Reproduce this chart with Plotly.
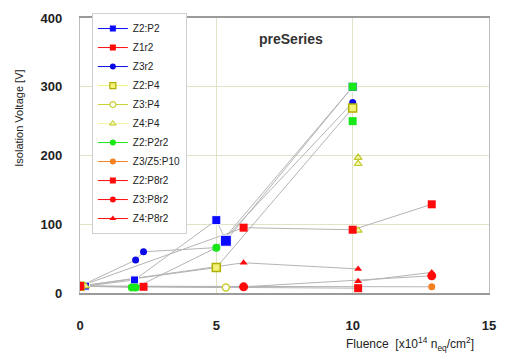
import plotly.graph_objects as go

# ---- data ----
names = ["Z2:P2", "Z1r2", "Z3r2", "Z2:P4", "Z3:P4", "Z4:P4",
         "Z2:P2r2", "Z3/Z5:P10", "Z2:P8r2", "Z3:P8r2", "Z4:P8r2"]

z2p2_x = [0.2, 2.0, 5.0, 5.35, 10.0]
z2p2_y = [10, 19, 106, 76, 300]
z1r2_x = [0, 2.33, 10.2]
z1r2_y = [10, 9, 7]
z3r2_x = [0, 2.04, 2.33, 5.0, 10.0]
z3r2_y = [10, 48, 60, 66, 277]
z2p4_x = [0, 5.0, 10.0]
z2p4_y = [10, 37, 269]
z3p4_x = [0, 5.35]
z3p4_y = [10, 8]
z4p4_x = [0.2, 10.2, 10.2, 10.2]
z4p4_y = [10, 91, 188, 197]
z2p2r2_x = [0, 1.9, 2.04, 5.0, 10.0, None, 10.0]
z2p2r2_y = [10, 8, 8, 66, 300, None, 250]
z3z5p10_x = [0, 12.9]
z3z5p10_y = [10, 9]
z2p8r2_x = [0, 6.0, 10.0, 12.9]
z2p8r2_y = [10, 95, 92, 129]
z3p8r2_x = [0, 6.0, 12.9]
z3p8r2_y = [10, 9, 25]
z4p8r2_x = [0, 6.0, 10.2, None, 10.2, 12.9]
z4p8r2_y = [10, 44, 35, None, 17, 30]

x_ticks = [0, 5, 10, 15]
y_ticks = [0, 100, 200, 300, 400]

# ---- styles ----
series = [
    (z2p2_x, z2p2_y, dict(symbol="square", color="#0a0aff", size=[8, 8, 9, 11, 9]), True),
    (z1r2_x, z1r2_y, dict(symbol="square", color="#ff0a0a", size=8), True),
    (z3r2_x, z3r2_y, dict(symbol="circle", color="#0a0ae6", size=7), True),
    (z2p4_x, z2p4_y, dict(symbol="square", color="#f2f27a", size=8,
                          line=dict(color="#b0b000", width=1.5)), True),
    (z3p4_x, z3p4_y, dict(symbol="circle", color="#ffffff", size=7,
                          line=dict(color="#c8cf30", width=1.5)), True),
    (z4p4_x, z4p4_y, dict(symbol="triangle-up", color="#f4f4a0", size=7,
                          line=dict(color="#c0c830", width=1.2)), False),
    (z2p2r2_x, z2p2r2_y, dict(symbol=["circle", "circle", "circle", "circle", "square", "square", "square"],
                              color="#18e818", size=8), True),
    (z3z5p10_x, z3z5p10_y, dict(symbol="circle", color="#f28020", size=7), True),
    (z2p8r2_x, z2p8r2_y, dict(symbol="square", color="#ff0a0a", size=8), True),
    (z3p8r2_x, z3p8r2_y, dict(symbol="circle", color="#ff0a0a", size=9), True),
    (z4p8r2_x, z4p8r2_y, dict(symbol="triangle-up", color="#ff0a0a", size=7), True),
]

legend_markers = [
    dict(symbol="square", color="#0a0aff", size=6),
    dict(symbol="square", color="#ff0a0a", size=6),
    dict(symbol="circle", color="#0a0ae6", size=6),
    dict(symbol="square", color="#f2f27a", size=6, line=dict(color="#b0b000", width=1.2)),
    dict(symbol="circle", color="#ffffff", size=6, line=dict(color="#c8cf30", width=1.2)),
    dict(symbol="triangle-up", color="#f4f4a0", size=6, line=dict(color="#c0c830", width=1)),
    dict(symbol="circle", color="#18e818", size=6),
    dict(symbol="circle", color="#f28020", size=6),
    dict(symbol="square", color="#ff0a0a", size=6),
    dict(symbol="circle", color="#ff0a0a", size=6),
    dict(symbol="triangle-up", color="#ff0a0a", size=6),
]

fig = go.Figure()

# connecting lines first (gray)
for (xs, ys, mk, draw_line) in series:
    if draw_line:
        fig.add_trace(go.Scatter(x=xs, y=ys, mode="lines", showlegend=False,
                                 line=dict(color="#b4b4b4", width=1), hoverinfo="skip"))
# markers
for (xs, ys, mk, draw_line) in series:
    fig.add_trace(go.Scatter(x=xs, y=ys, mode="markers", showlegend=False,
                             marker=dict(opacity=1, **mk)))

# legend entries
for name, mk in zip(names, legend_markers):
    lc = mk["color"] if mk["color"] != "#ffffff" else "#c8cf30"
    fig.add_trace(go.Scatter(x=[None], y=[None], mode="lines+markers", name=name,
                             marker=dict(opacity=1, **mk), line=dict(color=lc, width=1)))

grid_col = "#e2e2c6"
fig.update_xaxes(range=[0, 15], tickvals=x_ticks, ticktext=[f"<b>{v}</b>" for v in x_ticks],
                 showgrid=True, gridcolor=grid_col, gridwidth=1,
                 showline=True, linecolor="#9a9a9a", linewidth=1.5, mirror=True,
                 zeroline=False, ticks="", ticklabelstandoff=20,
                 tickfont=dict(family="Liberation Sans, Arial", size=13, color="#222222"))
fig.update_yaxes(range=[0, 400], tickvals=y_ticks, ticktext=[f"<b>{v}</b>" for v in y_ticks],
                 showgrid=True, gridcolor=grid_col, gridwidth=1,
                 showline=True, linecolor="#bdbdbd", linewidth=1.2, mirror=True,
                 zeroline=False, ticks="", ticklabelstandoff=14,
                 tickfont=dict(family="Liberation Sans, Arial", size=13, color="#222222"))

fig.update_layout(
    width=507, height=354,
    margin=dict(l=80, r=11, t=17, b=61),
    paper_bgcolor="white", plot_bgcolor="white",
    font=dict(family="Liberation Sans, Arial", color="#222222"),
    legend=dict(x=0.029, y=1.018, xanchor="left", yanchor="top",
                bgcolor="white", bordercolor="#cfcfcf", borderwidth=1,
                font=dict(family="Liberation Sans, Arial", size=10, color="#222222"),
                itemwidth=30, maxheight=240),
    annotations=[
        dict(text="<b>preSeries</b>", x=0.517, y=0.924, xref="paper", yref="paper",
             showarrow=False, font=dict(size=14, color="#333333", family="Liberation Sans, Arial"),
             xanchor="center", yanchor="middle"),
        dict(text="Isolation Voltage [V]", x=-0.149, y=0.634, xref="paper", yref="paper",
             showarrow=False, textangle=-90, font=dict(size=11, color="#222222"),
             xanchor="center", yanchor="middle"),
        dict(text="Fluence  [x10<sup>14</sup> n<sub>eq</sub>/cm<sup>2</sup>]",
             x=0.969, y=-0.185, xref="paper", yref="paper", showarrow=False,
             font=dict(size=12, color="#222222"), xanchor="right", yanchor="middle"),
    ],
)

fig.write_html("out.html")
